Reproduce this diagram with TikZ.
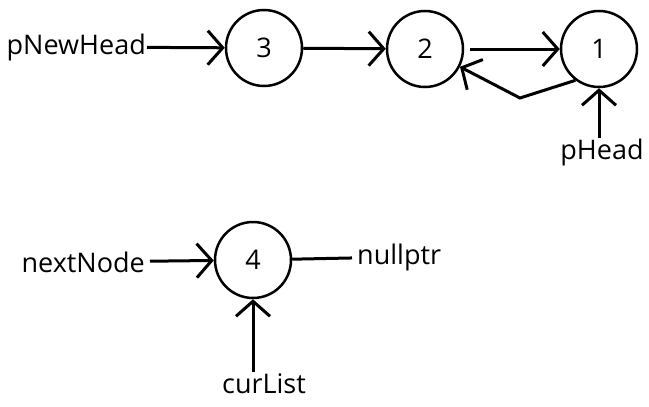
\documentclass[tikz,border=0pt]{standalone}
\usepackage{fontspec}
\setmainfont{Open Sans}
\usetikzlibrary{arrows.meta}
\tikzset{
  ball/.style={draw, circle, line width=2.5pt, minimum size=76pt, inner sep=0pt},
  lbl/.style={inner sep=1pt},
  arr/.style={line width=3pt, -{Straight Barb[length=15pt, width=34pt, line width=3pt]}},
  link/.style={line width=3pt}
}
\begin{document}
\begin{tikzpicture}[x=1pt, y=-1pt, font=\fontsize{27}{31}\selectfont]
  \useasboundingbox (0,0) rectangle (649,407);
  \node[ball] (n3) at (264,48) {3};
  \node[ball] (n2) at (425,49) {2};
  \node[ball] (n1) at (599,49) {1};
  \node[ball] (n4) at (253,260) {4};

  \node[lbl, anchor=east] (pnew) at (147,47) {pNewHead};
  \node[lbl, anchor=north] (phead) at (602,138) {pHead};
  \node[lbl, anchor=east, inner sep=5pt] (next) at (150,262) {nextNode};
  \node[lbl, anchor=west, inner sep=5pt] (null) at (352,257) {nullptr};
  \node[lbl, anchor=north] (cur) at (264,372) {curList};
  \coordinate (bend) at (520,98);

  \draw[arr] (pnew) -- (n3);
  \draw[arr] (n3) -- (n2);
  \draw[arr] ([xshift=6pt]n2.east) -- (n1);
  \draw[arr] (n1.233) -- (bend) -- (n2.-27);
  \draw[arr] (phead.north -| n1) -- (n1);
  \draw[arr] (next) -- (n4);
  \draw[link] (n4) -- (null);
  \draw[arr] (cur.north -| n4) -- (n4);
\end{tikzpicture}
\end{document}
